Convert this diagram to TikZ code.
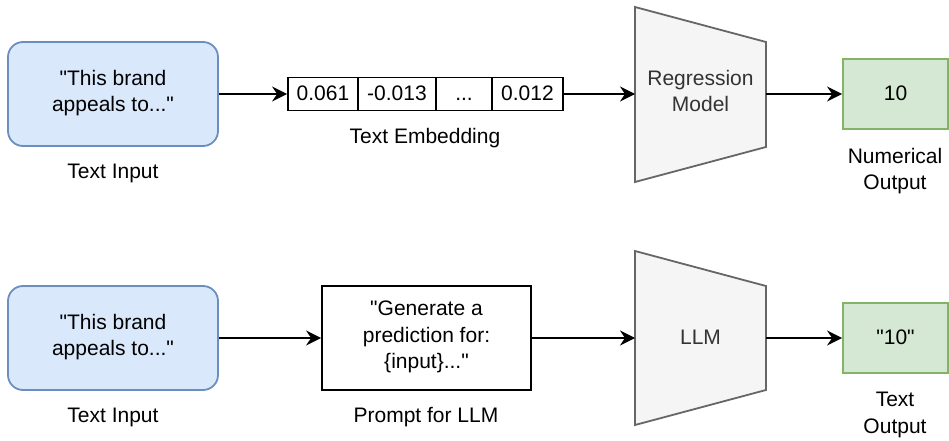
\documentclass[tikz,border=0pt]{standalone}
\usepackage{fontspec}
\setmainfont{Liberation Sans}
\usetikzlibrary{arrows.meta}
\definecolor{inFill}{HTML}{DAE8FC}
\definecolor{inLine}{HTML}{6C8EBF}
\definecolor{outFill}{HTML}{D5E8D4}
\definecolor{outLine}{HTML}{82B366}
\definecolor{mdlFill}{HTML}{F5F5F5}
\definecolor{mdlLine}{HTML}{666666}
\definecolor{mdlText}{HTML}{333333}
\newcommand{\qt}{\textquotedbl}
% line strut matching the 21/26.5 text setting
\newcommand{\lnstrut}{\vrule width 0pt height 20pt depth 6.5pt\relax}
\tikzset{
  base/.style={inner sep=0pt, align=center, font=\fontsize{21}{26.5}\selectfont,
    execute at begin node=\lnstrut, execute at end node=\lnstrut},
  inbox/.style={base, draw=inLine, fill=inFill, line width=1.8pt, rounded corners=15pt,
    minimum width=210pt, minimum height=104pt},
  cell/.style={base, draw=black, line width=1.8pt, minimum height=33pt},
  prompt/.style={base, draw=black, line width=1.8pt, minimum width=209pt, minimum height=104pt},
  outbox/.style={base, draw=outLine, fill=outFill, line width=1.8pt,
    minimum width=105pt, minimum height=70pt},
  model/.style={draw=mdlLine, fill=mdlFill, line width=1.8pt, line join=miter},
  modeltext/.style={base, text=mdlText},
  caption/.style={base},
  flow/.style={line width=1.9pt, -{Stealth[length=15pt, width=15pt, inset=5pt]}},
}
\begin{document}
\begin{tikzpicture}[x=1pt, y=-1pt]
\useasboundingbox (0,0) rectangle (949,441);

% ---- regression pipeline ----
\node[inbox] (in1) at (113,94) {\qt This brand\\appeals to...\qt};
\node[caption] (in1cap) at (113,172) {Text Input};

\node[cell, minimum width=70pt] (c1) at (323,94) {0.061};
\node[cell, minimum width=78pt] (c2) at (397,94) {-0.013};
\node[cell, minimum width=56pt] (c3) at (464,94) {...};
\node[cell, minimum width=71pt] (c4) at (527.5,94) {0.012};
\node[caption] (embcap) at (425,137) {Text Embedding};

\draw[model] (635,7) -- (766,42) -- (766,147) -- (635,182) -- cycle;
\coordinate (rm-w) at (635,94);
\coordinate (rm-e) at (766,94);
\node[modeltext] (rm) at (700.5,94) {Regression\\Model};

\node[outbox] (out1) at (895.5,94) {10};
\node[caption] (out1cap) at (895,172) {Numerical\\Output};

\draw[flow] (in1.east) -- (c1.west);
\draw[flow] (c4.east) -- (rm-w);
\draw[flow] (rm-e) -- (out1.west);

% ---- LLM pipeline ----
\node[inbox] (in2) at (113,338) {\qt This brand\\appeals to...\qt};
\node[caption] (in2cap) at (113,416) {Text Input};

\node[prompt] (pr) at (426.5,338) {\qt Generate a\\prediction for:\\\{input\}...\qt};
\node[caption] (prcap) at (426,416) {Prompt for LLM};

\draw[model] (635,251) -- (766,286) -- (766,390) -- (635,425) -- cycle;
\coordinate (llm-w) at (635,338);
\coordinate (llm-e) at (766,338);
\node[modeltext] (llm) at (700.5,338) {LLM};

\node[outbox] (out2) at (895.5,338) {\qt 10\qt};
\node[caption] (out2cap) at (895,416) {Text\\Output};

\draw[flow] (in2.east) -- (pr.west);
\draw[flow] (pr.east) -- (llm-w);
\draw[flow] (llm-e) -- (out2.west);
\end{tikzpicture}
\end{document}
